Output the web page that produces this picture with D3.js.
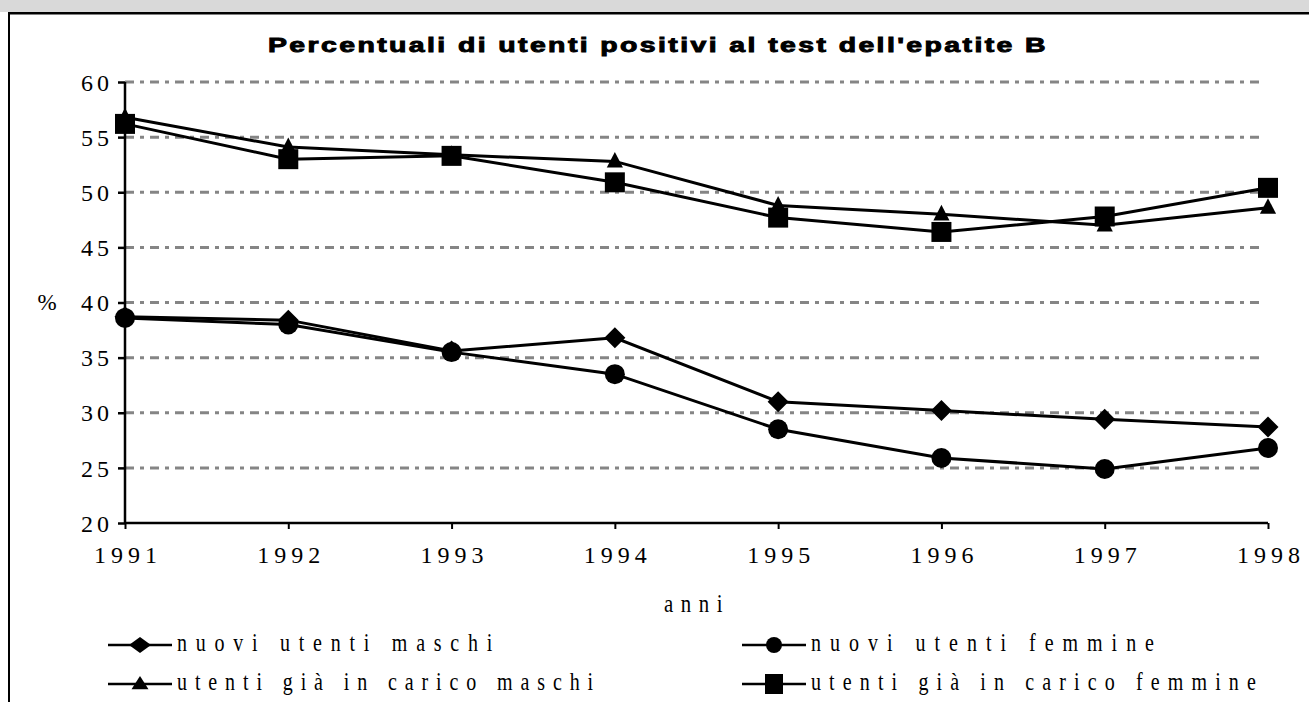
<!DOCTYPE html>
<html><head><meta charset="utf-8">
<script src="https://cdn.jsdelivr.net/npm/d3@7/dist/d3.min.js"></script>
<style>body{margin:0;background:#fff;}svg{display:block;}</style>
</head><body>
<svg id="c" width="1309" height="702"></svg>
<script>
const years = [1991,1992,1993,1994,1995,1996,1997,1998];
const nuoviMaschi = [38.7,38.4,35.6,36.8,31.0,30.2,29.4,28.7];
const nuoviFemmine = [38.6,38.0,35.5,33.5,28.5,25.9,24.9,26.8];
const caricoMaschi = [56.8,54.1,53.4,52.8,48.8,48.0,47.0,48.6];
const caricoFemmine = [56.2,53.0,53.3,50.9,47.7,46.4,47.8,50.4];
const yTicks = [20,25,30,35,40,45,50,55,60];
const seriesNames = ["nuovi utenti maschi","nuovi utenti femmine","utenti già in carico maschi","utenti già in carico femmine"];
const seriesValues = [nuoviMaschi,nuoviFemmine,caricoMaschi,caricoFemmine];
const seriesSymbols = ["diamond","circle","triangle","square"];

const svg = d3.select("#c");
const serif = "Liberation Serif, Times New Roman, serif";
// frame
svg.append("rect").attr("x",0).attr("y",0).attr("width",1309).attr("height",12).attr("fill","#d9d9d9");
svg.append("rect").attr("x",8).attr("y",12).attr("width",1301).attr("height",2.5).attr("fill","#000");
svg.append("rect").attr("x",8).attr("y",12).attr("width",2).attr("height",690).attr("fill","#000");

const x = d3.scaleLinear().domain([1991,1998]).range([125,1268]);
const y = d3.scaleLinear().domain([20,60]).range([523,82]);

// fit a text to a target width: glyphs squeezed/stretched by sx, remaining room as letter-spacing
function fitText(sel, str, px, py, size, sx, target){
  const t = sel.append("text").attr("transform",`translate(${px},${py}) scale(${sx},1)`)
    .attr("font-size",size).text(str);
  const w0 = t.node().getComputedTextLength();
  const n = str.length;
  const ls = Math.max(0,(target/sx - w0)/n);
  t.attr("letter-spacing",ls+"px");
  return t;
}

// title
const title = svg.append("g").attr("font-family","Liberation Sans, Arial, sans-serif").attr("font-weight","bold")
  .attr("stroke","#000").attr("stroke-width",0.9);
fitText(title,"Percentuali di utenti positivi al test dell'epatite B",268,52,20,1.42,780);

// grid
svg.append("g").selectAll("line").data(yTicks.filter(d=>d>20)).join("line")
  .attr("x1",x(1991)).attr("x2",1264).attr("y1",d=>y(d)).attr("y2",d=>y(d))
  .attr("stroke","#858585").attr("stroke-width",3).attr("stroke-dasharray","9,6,4,6");

// y axis
const ya = svg.append("g").attr("transform",`translate(${x(1991)},0)`)
  .call(d3.axisLeft(y).tickValues(yTicks).tickSize(7).tickPadding(5));
ya.select(".domain").attr("stroke","#000").attr("stroke-width",2.5).attr("d",`M0,${y(60)}V${y(20)}`);
ya.selectAll(".tick line").attr("stroke","#000").attr("stroke-width",2.5);
ya.selectAll(".tick text").attr("font-family",serif).attr("font-size",24).attr("letter-spacing","4px").attr("fill","#000").attr("dy","0.34em");

// x axis
const xa = svg.append("g").attr("transform",`translate(0,${y(20)})`)
  .call(d3.axisBottom(x).tickValues(years).tickFormat(d3.format("d")).tickSize(6).tickPadding(17));
xa.select(".domain").attr("stroke","#000").attr("stroke-width",2.5).attr("d",`M${x(1991)},0H${x(1998)}`);
xa.selectAll(".tick line").attr("stroke","#000").attr("stroke-width",2);
xa.selectAll(".tick text").attr("font-family",serif).attr("font-size",24).attr("letter-spacing","5px").attr("dx","2.5px").attr("fill","#000");

// axis titles
svg.append("text").attr("x",47).attr("y",310).attr("text-anchor","middle")
  .attr("font-family",serif).attr("font-size",23).text("%");
const at = svg.append("g").attr("font-family",serif);
fitText(at,"anni",664,612,26,0.8,66);

// custom symbols (size = half-extent)
const symDiamond = {draw(c,r){c.moveTo(0,-r);c.lineTo(r,0);c.lineTo(0,r);c.lineTo(-r,0);c.closePath();}};
const symCircle = {draw(c,r){c.moveTo(r,0);c.arc(0,0,r,0,2*Math.PI);}};
const symTriangle = {draw(c,r){c.moveTo(0,-r);c.lineTo(r*0.85,r*0.65);c.lineTo(-r*0.85,r*0.65);c.closePath();}};
const symSquare = {draw(c,r){c.rect(-r,-r,2*r,2*r);}};
const symMap = {diamond:symDiamond, circle:symCircle, triangle:symTriangle, square:symSquare};
const symSize = {diamond:10.5, circle:10, triangle:9.5, square:10};
const line = d3.line().x((d,i)=>x(years[i])).y(d=>y(d));

seriesValues.forEach((vals)=>{
  svg.append("path").datum(vals).attr("d",line).attr("fill","none").attr("stroke","#000").attr("stroke-width",3);
});
seriesValues.forEach((vals,k)=>{
  const s = seriesSymbols[k];
  svg.append("g").selectAll("path").data(vals).join("path")
    .attr("transform",(d,i)=>`translate(${x(years[i])},${y(d)})`)
    .attr("d",d3.symbol().type(symMap[s]).size(symSize[s])).attr("fill","#000");
});

// legend
const legPos = [[108,645],[742,645],[108,684],[742,684]];
const legTextW = [324,352,424,453];
const legSym = {diamond:[11,8], circle:[8,8], triangle:[10,8], square:[9,10]};
seriesNames.forEach((name,k)=>{
  const [lx,ly] = legPos[k];
  const g = svg.append("g").attr("font-family",serif);
  g.append("line").attr("x1",lx).attr("x2",lx+64).attr("y1",ly).attr("y2",ly).attr("stroke","#000").attr("stroke-width",2.5);
  const s = seriesSymbols[k];
  const [sx,sy] = legSym[s];
  g.append("path").attr("transform",`translate(${lx+32},${ly}) scale(${sx/10},${sy/10})`)
    .attr("d",d3.symbol().type(symMap[s]).size(10)).attr("fill","#000");
  fitText(g,name,lx+69,ly+6,25,0.8,legTextW[k]);
});
</script>
</body></html>
